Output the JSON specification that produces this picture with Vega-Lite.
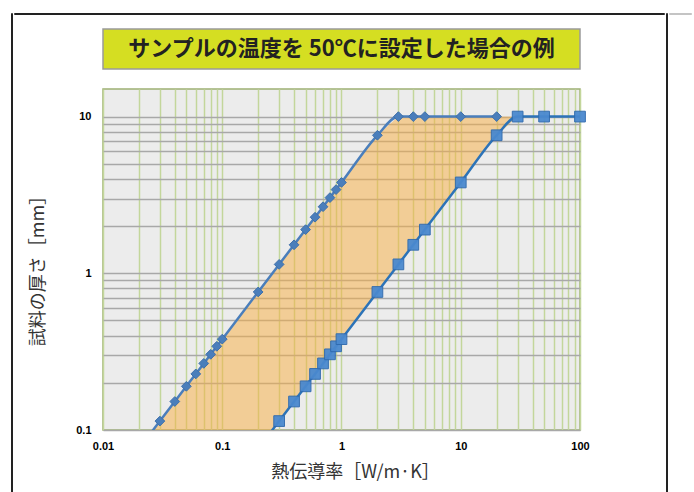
{
  "$schema": "https://vega.github.io/schema/vega-lite/v6.json",
  "background": "white",
  "padding": {"left": 10, "top": 12, "right": 0, "bottom": 0},
  "config": {"font": "Noto Sans CJK JP"},
  "datasets": {
    "heading": [{"text": "サンプルの温度を 50℃に設定した場合の例"}],
    "series": [
      {"series": "A", "k": 0.02, "t": 0.076},
      {"series": "A", "k": 0.03, "t": 0.114},
      {"series": "A", "k": 0.04, "t": 0.152},
      {"series": "A", "k": 0.05, "t": 0.19},
      {"series": "A", "k": 0.06, "t": 0.228},
      {"series": "A", "k": 0.07, "t": 0.266},
      {"series": "A", "k": 0.08, "t": 0.304},
      {"series": "A", "k": 0.09, "t": 0.342},
      {"series": "A", "k": 0.1, "t": 0.38},
      {"series": "A", "k": 0.2, "t": 0.76},
      {"series": "A", "k": 0.3, "t": 1.14},
      {"series": "A", "k": 0.4, "t": 1.52},
      {"series": "A", "k": 0.5, "t": 1.9},
      {"series": "A", "k": 0.6, "t": 2.28},
      {"series": "A", "k": 0.7, "t": 2.66},
      {"series": "A", "k": 0.8, "t": 3.04},
      {"series": "A", "k": 0.9, "t": 3.42},
      {"series": "A", "k": 1, "t": 3.8},
      {"series": "A", "k": 2, "t": 7.6},
      {"series": "A", "k": 3, "t": 10},
      {"series": "A", "k": 4, "t": 10},
      {"series": "A", "k": 5, "t": 10},
      {"series": "A", "k": 10, "t": 10},
      {"series": "A", "k": 20, "t": 10},
      {"series": "B", "k": 0.2, "t": 0.076},
      {"series": "B", "k": 0.3, "t": 0.114},
      {"series": "B", "k": 0.4, "t": 0.152},
      {"series": "B", "k": 0.5, "t": 0.19},
      {"series": "B", "k": 0.6, "t": 0.228},
      {"series": "B", "k": 0.7, "t": 0.266},
      {"series": "B", "k": 0.8, "t": 0.304},
      {"series": "B", "k": 0.9, "t": 0.342},
      {"series": "B", "k": 1, "t": 0.38},
      {"series": "B", "k": 2, "t": 0.76},
      {"series": "B", "k": 3, "t": 1.14},
      {"series": "B", "k": 4, "t": 1.52},
      {"series": "B", "k": 5, "t": 1.9},
      {"series": "B", "k": 10, "t": 3.8},
      {"series": "B", "k": 20, "t": 7.6},
      {"series": "B", "k": 30, "t": 10},
      {"series": "B", "k": 50, "t": 10},
      {"series": "B", "k": 100, "t": 10}
    ],
    "band": [
      {"k": 0.02, "hi": 0.076, "lo": 0.05},
      {"k": 0.2, "hi": 0.76, "lo": 0.076},
      {"k": 1, "hi": 3.8, "lo": 0.38},
      {"k": 2, "hi": 7.6, "lo": 0.76},
      {"k": 3, "hi": 10, "lo": 1.14},
      {"k": 20, "hi": 10, "lo": 7.6},
      {"k": 30, "hi": 10, "lo": 10}
    ]
  },
  "spacing": 0,
  "hconcat": [
    {"width": 1, "height": 479, "data": {"values": []}, "mark": "point", "view": {"stroke": "#222222", "strokeWidth": 1, "fill": null}},
    {
      "spacing": 13,
      "vconcat": [
        {"width": 650, "height": 1, "data": {"values": []}, "mark": "point", "view": {"stroke": "#222222", "strokeWidth": 1, "fill": null}},
        {
          "spacing": 0,
          "hconcat": [
            {"width": 14, "height": 1, "data": {"values": []}, "mark": "point", "view": {"stroke": null}},
            {
              "spacing": 18,
              "vconcat": [
                {
                  "width": 477, "height": 40,
                  "data": {"name": "heading"},
                  "view": {"fill": "#D5DE22", "stroke": "#9A9A9A", "strokeWidth": 1.5},
                  "mark": {"type": "text", "font": "Noto Sans CJK JP", "fontSize": 22, "fontWeight": "bold", "color": "#222222"},
                  "encoding": {"text": {"field": "text"}}
                },
                {
                  "width": 477,
                  "height": 341,
                  "view": {"fill": "#ECECEC", "stroke": "#9DB073", "strokeWidth": 1.5},
                  "layer": [
                    {
                      "data": {"name": "band"},
                      "mark": {"type": "area", "clip": true, "color": "#F8AE40", "opacity": 0.5, "interpolate": "linear"},
                      "encoding": {
                        "x": {
                          "field": "k", "type": "quantitative",
                          "scale": {"type": "log", "domain": [0.01, 100], "nice": false},
                          "axis": {
                            "values": [0.01,0.02,0.03,0.04,0.05,0.06,0.07,0.08,0.09,0.1,0.2,0.3,0.4,0.5,0.6,0.7,0.8,0.9,1,2,3,4,5,6,7,8,9,10,20,30,40,50,60,70,80,90,100],
                            "labelExpr": "indexof([0.01,0.1,1,10,100], datum.value) >= 0 ? format(datum.value, '~g') : ''",
                            "labelOverlap": false,
                            "labelFlush": false,
                            "grid": true, "gridColor": "#C3D69B", "gridWidth": 1.5,
                            "ticks": false, "tickSize": 0, "domain": false,
                            "labelFont": "Liberation Sans", "labelFontWeight": "bold", "labelFontSize": 11, "labelColor": "#000000", "labelPadding": 10,
                            "title": "熱伝導率［W/m·K］",
                            "titleFont": "Noto Sans CJK JP", "titleFontSize": 18, "titleFontWeight": "normal", "titleColor": "#333333",
                            "titleX": 252, "titleY": 42, "titleBaseline": "middle", "titleAlign": "center"
                          }
                        },
                        "y": {
                          "field": "hi", "type": "quantitative",
                          "scale": {"type": "log", "domain": [0.1, 15], "nice": false},
                          "axis": {
                            "values": [0.1,0.2,0.3,0.4,0.5,0.6,0.7,0.8,0.9,1,2,3,4,5,6,7,8,9,10],
                            "labelExpr": "indexof([0.1,1,10], datum.value) >= 0 ? format(datum.value, '~g') : ''",
                            "labelOverlap": false,
                            "labelFlush": false,
                            "grid": true, "gridColor": "#A8A8A8", "gridWidth": 1.5,
                            "ticks": false, "tickSize": 0, "domain": false,
                            "labelFont": "Liberation Sans", "labelFontWeight": "bold", "labelFontSize": 11, "labelColor": "#000000", "labelPadding": 12,
                            "title": "試料の厚さ［mm］",
                            "titleFont": "Noto Sans CJK JP", "titleFontSize": 18, "titleFontWeight": "normal", "titleColor": "#333333",
                            "titleX": -65, "titleY": 177, "titleBaseline": "middle", "titleAlign": "center"
                          }
                        },
                        "y2": {"field": "lo"}
                      }
                    },
                    {
                      "data": {"name": "series"},
                      "transform": [{"filter": "datum.series == 'A'"}],
                      "mark": {"type": "line", "clip": true, "color": "#4A7EBB", "strokeWidth": 2.5, "interpolate": "monotone"},
                      "encoding": {
                        "x": {"field": "k", "type": "quantitative"},
                        "y": {"field": "t", "type": "quantitative"}
                      }
                    },
                    {
                      "data": {"name": "series"},
                      "transform": [{"filter": "datum.series == 'B'"}],
                      "mark": {"type": "line", "clip": true, "color": "#2C73B8", "strokeWidth": 2.5, "interpolate": "monotone"},
                      "encoding": {
                        "x": {"field": "k", "type": "quantitative"},
                        "y": {"field": "t", "type": "quantitative"}
                      }
                    },
                    {
                      "data": {"name": "series"},
                      "transform": [{"filter": "datum.series == 'A' && datum.t >= 0.1"}],
                      "mark": {"type": "point", "shape": "diamond", "filled": true, "size": 95, "color": "#4A7EBB", "opacity": 1, "stroke": "#3F70AA", "strokeWidth": 1},
                      "encoding": {
                        "x": {"field": "k", "type": "quantitative"},
                        "y": {"field": "t", "type": "quantitative"}
                      }
                    },
                    {
                      "data": {"name": "series"},
                      "transform": [{"filter": "datum.series == 'B' && datum.t >= 0.1"}],
                      "mark": {"type": "point", "shape": "square", "filled": true, "size": 115, "color": "#4A89CF", "opacity": 0.95, "stroke": "#2F6AAE", "strokeWidth": 1},
                      "encoding": {
                        "x": {"field": "k", "type": "quantitative"},
                        "y": {"field": "t", "type": "quantitative"}
                      }
                    }
                  ]
                }
              ]
            }
          ]
        }
      ]
    },
    {"width": 1, "height": 479, "data": {"values": []}, "mark": "point", "view": {"stroke": "#222222", "strokeWidth": 1, "fill": null}},
    {"width": 22, "height": 1, "data": {"values": []}, "mark": "point", "view": {"stroke": "#C4C4C4", "strokeWidth": 1, "fill": "#C4C4C4"}}
  ]
}
